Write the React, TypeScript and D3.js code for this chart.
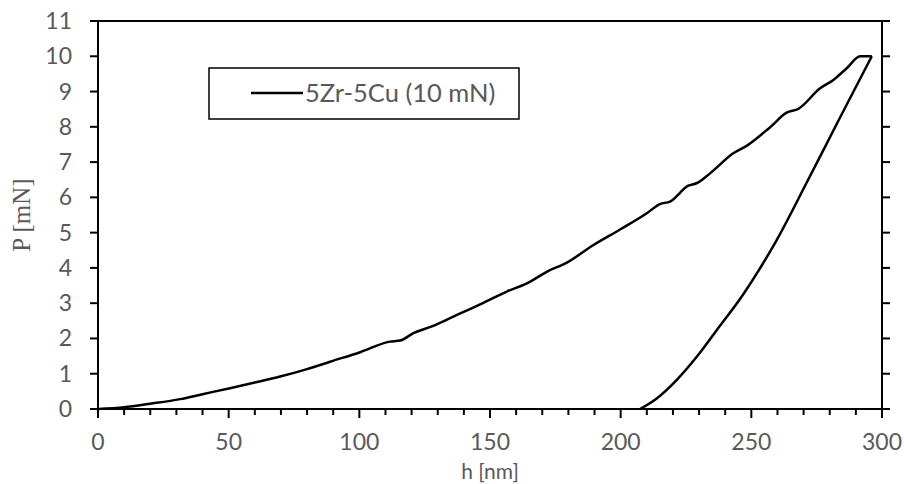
import React from "react";
import * as d3 from "d3";

const loadH = [0, 10, 20, 31.4, 40, 50.5, 60, 69.7, 80, 88.8, 100.3, 111.7, 115.6, 120.7, 128, 136, 147.5, 156.4, 164.1, 171.7, 179.4, 189.6, 199.8, 210, 215, 218.9, 225.9, 229, 234.2, 243.1, 248.2, 257.2, 263.5, 268, 276.3, 281.4, 286.5, 291.6, 296.1];
const loadP = [0, 0.05, 0.15, 0.28, 0.42, 0.59, 0.75, 0.92, 1.13, 1.34, 1.61, 1.91, 1.94, 2.15, 2.35, 2.62, 3.01, 3.33, 3.56, 3.89, 4.15, 4.65, 5.09, 5.55, 5.81, 5.88, 6.33, 6.4, 6.68, 7.25, 7.46, 7.99, 8.4, 8.51, 9.09, 9.33, 9.66, 10.0, 10.0];
const unloadH = [296.1, 283.5, 271.2, 259.7, 253, 247, 236.8, 229.1, 221.4, 213.8, 207.4];
const unloadP = [10.0, 8.2, 6.42, 4.79, 3.95, 3.26, 2.24, 1.48, 0.82, 0.3, 0.0];

const xTicks = [0, 50, 100, 150, 200, 250, 300];
const yTicks = [0, 1, 2, 3, 4, 5, 6, 7, 8, 9, 10, 11];
const seriesName = "5Zr-5Cu (10 mN)";
const xTitle = "h [nm]";
const yTitle = "P [mN]";

export default function App() {
  const W = 904, H = 484;
  const L = 98, R = 882, T = 21, B = 409;
  const x = d3.scaleLinear().domain([0, 300]).range([L, R]);
  const y = d3.scaleLinear().domain([0, 11]).range([B, T]);
  const loadPts = loadH.map((h, i) => [h, loadP[i]] as [number, number]);
  const unloadPts = unloadH.map((h, i) => [h, unloadP[i]] as [number, number]);
  const lineL = d3.line<[number, number]>().x(d => x(d[0])).y(d => y(d[1])).curve(d3.curveMonotoneX);
  const lineU = d3.line<[number, number]>().x(d => x(d[0])).y(d => y(d[1])).curve(d3.curveMonotoneX);
  const minor = d3.range(0, 301, 10);
  const sans = "Lato, 'Open Sans', sans-serif";
  const grey = "#595959";
  return (
    <svg width={W} height={H} style={{ position: "absolute", left: 0, top: 0 }}>
      <rect x={0} y={0} width={W} height={H} fill="#fff" />
      <line x1={L} y1={T} x2={R} y2={T} stroke="#000" strokeWidth={2} />
      <line x1={R} y1={T} x2={R} y2={B} stroke="#000" strokeWidth={2} />
      <line x1={L} y1={T} x2={L} y2={B + 1} stroke="#000" strokeWidth={2} />
      <line x1={L - 8} y1={B} x2={R + 8} y2={B} stroke="#000" strokeWidth={2} />
      {yTicks.map(t => (
        <g key={"y" + t}>
          <line x1={L - 8} x2={L} y1={y(t)} y2={y(t)} stroke="#000" strokeWidth={2} />
          <line x1={R} x2={R + 8} y1={y(t)} y2={y(t)} stroke="#000" strokeWidth={2} />
          <text x={72} y={y(t) + 8} textAnchor="end" fontFamily={sans} fontSize={23} fill={grey}>{t}</text>
        </g>
      ))}
      {minor.map(t => (
        <line key={"m" + t} x1={x(t)} x2={x(t)} y1={B} y2={t % 50 === 0 ? B + 9 : B + 6} stroke="#000" strokeWidth={2} />
      ))}
      {xTicks.map(t => (
        <text key={"x" + t} x={x(t)} y={450} textAnchor="middle" fontFamily={sans} fontSize={23} fill={grey}>{t}</text>
      ))}
      <text x={(L + R) / 2} y={479} textAnchor="middle" fontFamily={sans} fontSize={21} fill={grey}>{xTitle}</text>
      <text transform={`translate(30,${(T + B) / 2}) rotate(-90)`} textAnchor="middle" fontFamily="'Liberation Serif', 'DejaVu Serif', serif" fontSize={25} fill={grey}>{yTitle}</text>
      <path d={lineL(loadPts) ?? ""} fill="none" stroke="#000" strokeWidth={2.5} strokeLinejoin="round" />
      <path d={lineU(unloadPts) ?? ""} fill="none" stroke="#000" strokeWidth={2.5} strokeLinejoin="round" />
      <rect x={209} y={68} width={310} height={51} fill="#fff" stroke="#000" strokeWidth={1.5} />
      <line x1={251} x2={303} y1={93} y2={93} stroke="#000" strokeWidth={2.5} />
      <text x={305} y={102} fontFamily={sans} fontSize={25.5} fill={grey}>{seriesName}</text>
    </svg>
  );
}
